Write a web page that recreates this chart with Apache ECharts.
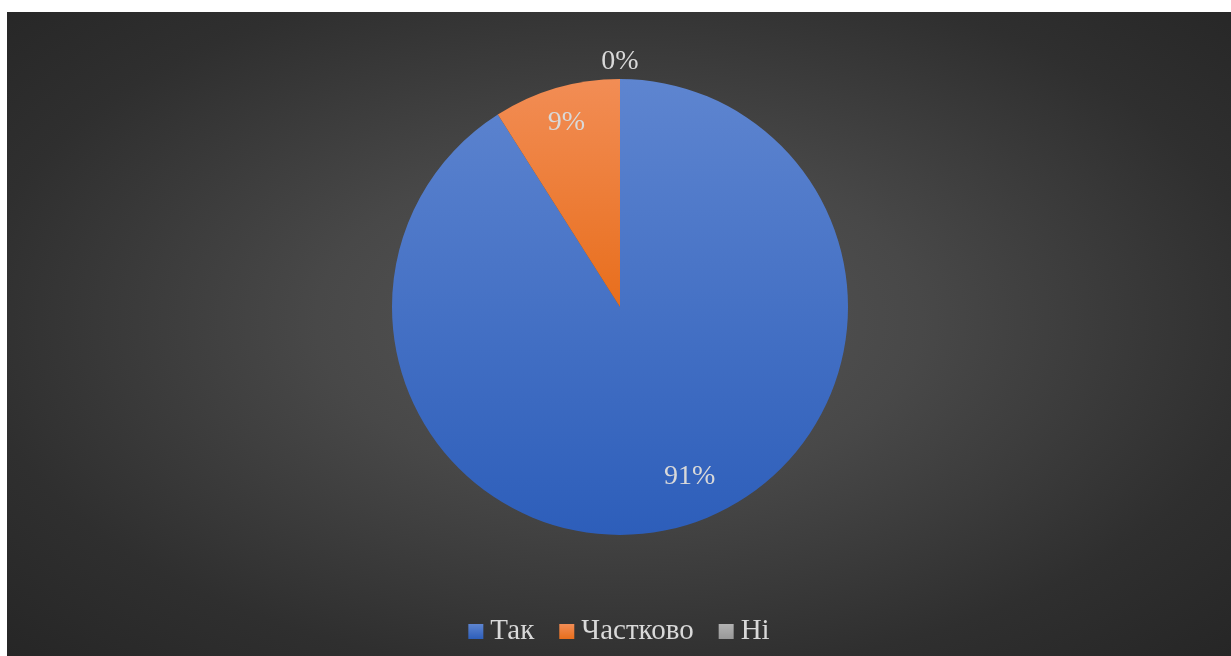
<!DOCTYPE html>
<html>
<head>
<meta charset="utf-8">
<script src="https://cdn.jsdelivr.net/npm/echarts@6/dist/echarts.min.js"></script>
<style>
  html, body { margin:0; padding:0; background:#ffffff; width:1231px; height:656px; overflow:hidden; }
  #wrap { position:absolute; left:7px; top:12px; width:1224px; height:644px;
    background: radial-gradient(ellipse at 50% 48%, #575757 0%, #484848 35%, #2f2f2f 75%, #262626 100%); }
  #chart { width:1224px; height:644px; }
</style>
</head>
<body>
<div id="wrap"><div id="chart"></div></div>
<script>
const categories = ['Так', 'Частково', 'Ні'];
const values = [91, 9, 0];
const labels = ['91%', '9%', '0%'];

const grad = (a, b) => new echarts.graphic.LinearGradient(0, 0, 0, 1, [
  { offset: 0, color: a }, { offset: 1, color: b }
]);
const colors = [grad('#5e85d0', '#2d5eba'), grad('#f28d55', '#e86e1c'), grad('#b2b2b2', '#989898')];
const labelFont = { fontFamily: 'Liberation Serif', fontSize: 28, color: '#d9d9d9' };
const legendFont = { fontFamily: 'Liberation Serif', fontSize: 29, color: '#d9d9d9' };

const chart = echarts.init(document.getElementById('chart'));
chart.setOption({
  animation: false,
  backgroundColor: 'transparent',
  legend: {
    data: categories,
    bottom: 5,
    left: 'center',
    icon: 'rect',
    itemWidth: 15,
    itemHeight: 15,
    itemGap: 25,
    itemStyle: { borderWidth: 0 },
    textStyle: Object.assign({ padding: [0, 0, 0, 2] }, legendFont)
  },
  series: [
    {
      type: 'pie',
      center: [613, 295],
      radius: [0, 228],
      startAngle: 90,
      clockwise: true,
      label: { show: false },
      labelLine: { show: false },
      itemStyle: { borderWidth: 0 },
      emphasis: { disabled: true },
      data: categories.map((c, i) => ({ name: c, value: values[i], itemStyle: { color: colors[i] } }))
    },
    {
      type: 'pie',
      silent: true,
      center: [613, 295],
      radius: [150, 228],
      startAngle: 90,
      clockwise: true,
      itemStyle: { color: 'transparent', borderWidth: 0 },
      emphasis: { disabled: true },
      label: Object.assign({ show: true, position: 'inside', formatter: p => labels[p.dataIndex] }, labelFont),
      labelLine: { show: false },
      labelLayout: p => p.dataIndex === 2 ? { align: 'center', dy: 2 } : (p.dataIndex === 0 ? { dx: 16, dy: -15 } : {}),
      data: categories.map((c, i) => i === 2
        ? { name: c, value: values[i],
            label: { position: 'outside', distanceToLabelLine: 0 },
            labelLine: { show: false, length: 19, length2: 0 } }
        : { name: c, value: values[i] })
    }
  ]
});
</script>
</body>
</html>
